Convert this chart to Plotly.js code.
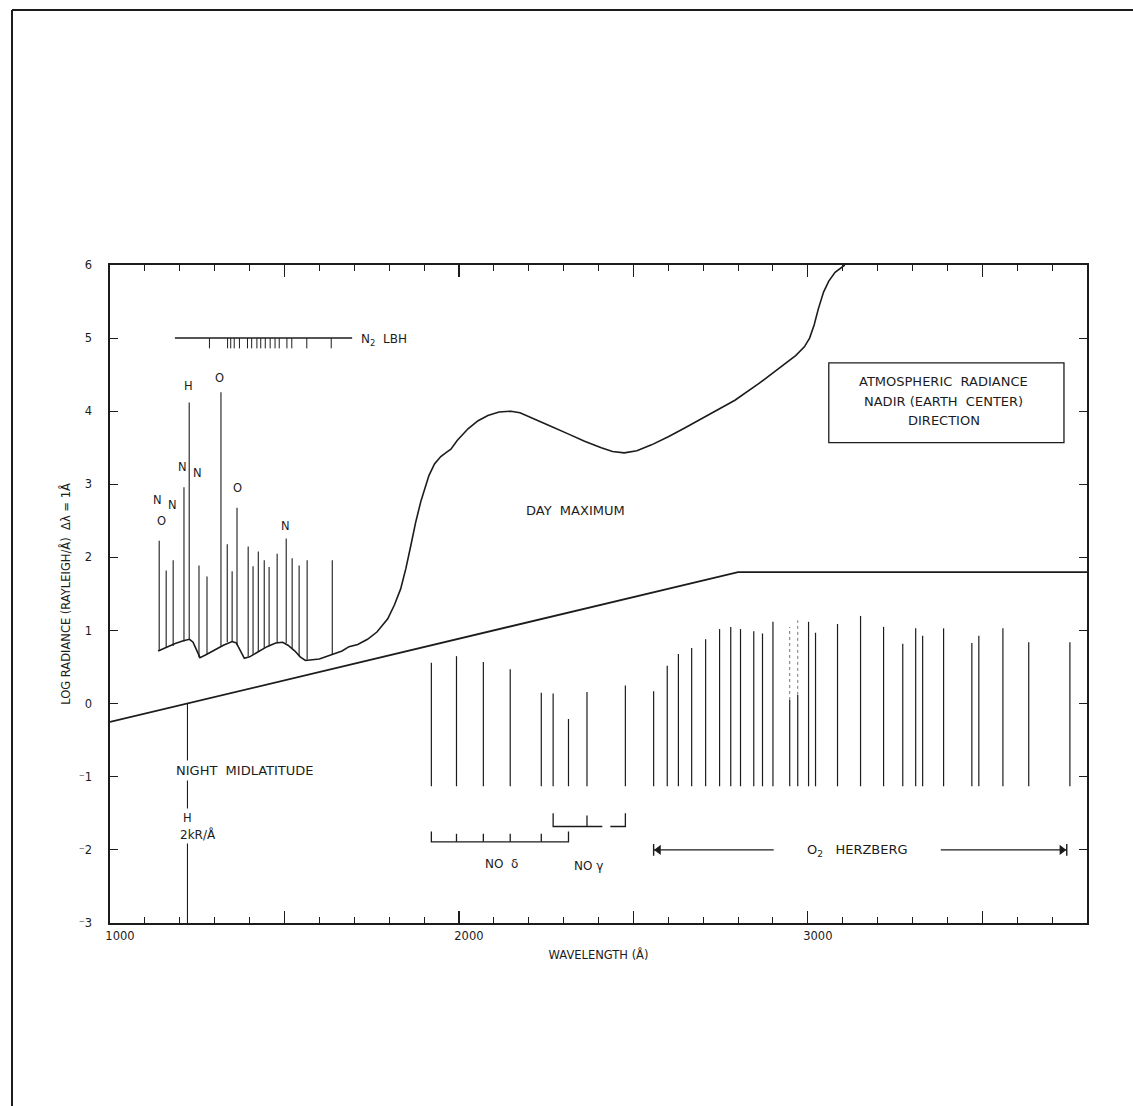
<!DOCTYPE html>
<html>
<head>
<meta charset="utf-8">
<script src="https://cdn.plot.ly/plotly-3.0.1.min.js"></script>
<style>
  html, body { margin: 0; padding: 0; background: #ffffff; }
  #chart { width: 1133px; height: 1106px; }
</style>
</head>
<body>
<div id="chart"></div>
<script>
// ---------- DATA ----------
// Day maximum continuum curve
const dayLam = [1138,1160,1185,1210,1228,1238,1250,1258,1275,1300,1325,1350,1362,1372,1385,1400,1425,1450,1475,1495,1510,1530,1545,1560,1600,1640,1665,1685,1710,1738,1765,1796,1815,1833,1848,1862,1876,1891,1914,1930,1948,1965,1977,1995,2026,2055,2083,2115,2149,2175,2200,2216,2260,2313,2360,2408,2440,2474,2510,2552,2600,2647,2720,2791,2860,2934,2965,2990,3005,3018,3030,3045,3060,3078,3106];
const dayVal = [0.72,0.77,0.82,0.86,0.88,0.84,0.70,0.63,0.67,0.74,0.80,0.85,0.83,0.74,0.62,0.64,0.71,0.78,0.83,0.84,0.80,0.72,0.64,0.59,0.61,0.68,0.72,0.78,0.81,0.88,0.98,1.16,1.35,1.57,1.85,2.16,2.48,2.77,3.12,3.28,3.38,3.44,3.48,3.60,3.76,3.87,3.94,3.99,4.00,3.98,3.93,3.89,3.80,3.69,3.59,3.50,3.45,3.43,3.46,3.54,3.65,3.77,3.96,4.15,4.38,4.64,4.76,4.88,5.00,5.18,5.40,5.63,5.78,5.90,6.00];

// Night midlatitude curve
const nightLam = [1000, 2800, 3800];
const nightVal = [-0.25, 1.80, 1.80];

// Far-UV emission lines standing on the day curve
const uvLam  = [1141,1161,1181,1212,1227,1255,1278,1318,1336,1350,1364,1396,1410,1425,1442,1456,1479,1505,1522,1542,1565,1637];
const uvBase = [0.73,0.76,0.79,0.85,0.88,0.63,0.68,0.78,0.84,0.85,0.80,0.65,0.67,0.71,0.76,0.79,0.83,0.83,0.76,0.65,0.60,0.68];
const uvTop  = [2.23,1.82,1.96,2.96,4.12,1.89,1.74,4.26,2.18,1.81,2.68,2.15,1.88,2.08,1.96,1.87,2.05,2.26,1.99,1.89,1.96,1.96];

// Night H Lyman-alpha line
const nightHLam = 1222;
const nightHRange = [-3, 0];

// NO and O2 band lines (hanging from a common base)
const bandLam = [1921,1993,2070,2147,2236,2270,2314,2367,2477,2558,2597,2629,2667,2707,2747,2779,2807,2845,2870,2900,3002,3022,3085,3151,3217,3272,3309,3329,3389,3470,3490,3559,3633,3751];
const bandTop = [0.56,0.65,0.57,0.47,0.15,0.14,-0.21,0.16,0.25,0.17,0.52,0.68,0.76,0.88,1.02,1.05,1.02,0.99,0.96,1.12,1.12,0.97,1.09,1.20,1.05,0.82,1.03,0.93,1.03,0.83,0.93,1.03,0.84,0.84];
const bandBase = -1.13;
// two faintly printed band lines
const fadedLam = [2948, 2971];
const fadedSolidTop = [0.05, 0.12];
const fadedTop = [1.05, 1.14];

// N2 LBH band marker
const lbhLine = [1186, 1694];
const lbhLevel = 5.0;
const lbhLam = [1285,1337,1346,1356,1371,1394,1406,1421,1432,1445,1459,1473,1485,1507,1521,1564,1634];
const lbhTickEnd = 4.86;

// NO delta / NO gamma brackets
const noDeltaLam = [1921,1993,2070,2147,2236,2314];
const noDeltaLevel = -1.89, noDeltaEndTop = -1.75, noDeltaMidTop = -1.78;
const noGammaLam = [2270,2367,2477];
const noGammaLevel = -1.68, noGammaEndTop = -1.50, noGammaMidTop = -1.53;
const noGammaGap = [2411, 2434];

// O2 Herzberg arrow
const herzLeft = [2558, 2902];
const herzRight = [3381, 3742];
const herzLevel = -2.0;
const herzHeadLam = [2572, 3728];   // arrowhead centres, just inside the end bars

// Axis ticks
const xTickVals = [1000,1500,2000,2500,3000,3500];
const xTickText = ['1000',' ','2000',' ','3000',' '];
const yTickVals = [-3,-2,-1,0,1,2,3,4,5,6];
const yTickText = ['\u207B3','\u207B2','\u207B1','0','1','2','3','4','5','6'];

// ---------- BUILD ----------
const INK = '#1c1c1c';
function segs(xs0, ys0, xs1, ys1) {
  const x = [], y = [];
  for (let i = 0; i < xs0.length; i++) {
    x.push(xs0[i], xs1[i], null);
    y.push(ys0[i], ys1[i], null);
  }
  return {x, y};
}
const traces = [];

// night curve
traces.push({x: nightLam, y: nightVal, mode: 'lines', line: {color: INK, width: 1.8}, hoverinfo: 'skip'});
// day curve
traces.push({x: dayLam, y: dayVal, mode: 'lines', line: {color: INK, width: 1.6}, hoverinfo: 'skip'});

// uv lines
let s = segs(uvLam, uvBase, uvLam, uvTop);
traces.push({x: s.x, y: s.y, mode: 'lines', line: {color: INK, width: 1.1}, hoverinfo: 'skip'});

// night H line
traces.push({x: [nightHLam, nightHLam], y: nightHRange, mode: 'lines', line: {color: INK, width: 1.1}, hoverinfo: 'skip'});

// band lines
s = segs(bandLam, bandLam.map(() => bandBase), bandLam, bandTop);
traces.push({x: s.x, y: s.y, mode: 'lines', line: {color: INK, width: 1.2}, hoverinfo: 'skip'});
s = segs(fadedLam, fadedLam.map(() => bandBase), fadedLam, fadedSolidTop);
traces.push({x: s.x, y: s.y, mode: 'lines', line: {color: INK, width: 1.2}, hoverinfo: 'skip'});
s = segs(fadedLam, fadedSolidTop, fadedLam, fadedTop);
traces.push({x: s.x, y: s.y, mode: 'lines', line: {color: '#777', width: 1, dash: 'dot'}, hoverinfo: 'skip'});

// LBH marker
traces.push({x: lbhLine, y: [lbhLevel, lbhLevel], mode: 'lines', line: {color: INK, width: 1.5}, hoverinfo: 'skip'});
s = segs(lbhLam, lbhLam.map(() => lbhLevel), lbhLam, lbhLam.map(() => lbhTickEnd));
traces.push({x: s.x, y: s.y, mode: 'lines', line: {color: INK, width: 1}, hoverinfo: 'skip'});

// NO delta bracket
{
  const n = noDeltaLam.length;
  const x = [noDeltaLam[0], noDeltaLam[0], noDeltaLam[n-1], noDeltaLam[n-1], null];
  const y = [noDeltaEndTop, noDeltaLevel, noDeltaLevel, noDeltaEndTop, null];
  for (let i = 1; i < n - 1; i++) { x.push(noDeltaLam[i], noDeltaLam[i], null); y.push(noDeltaLevel, noDeltaMidTop, null); }
  traces.push({x, y, mode: 'lines', line: {color: INK, width: 1.3}, hoverinfo: 'skip'});
}
// NO gamma bracket
{
  const a = noGammaLam[0], m = noGammaLam[1], b = noGammaLam[2];
  const x = [a, a, noGammaGap[0], null, noGammaGap[1], b, b, null, m, m];
  const y = [noGammaEndTop, noGammaLevel, noGammaLevel, null, noGammaLevel, noGammaLevel, noGammaEndTop, null, noGammaLevel, noGammaMidTop];
  traces.push({x, y, mode: 'lines', line: {color: INK, width: 1.3}, hoverinfo: 'skip'});
}
// Herzberg lines + end bars
traces.push({
  x: [herzLeft[0], herzLeft[1], null, herzRight[0], herzRight[1], null, herzLeft[0], herzLeft[0], null, herzRight[1], herzRight[1]],
  y: [herzLevel, herzLevel, null, herzLevel, herzLevel, null, herzLevel + 0.08, herzLevel - 0.08, null, herzLevel + 0.08, herzLevel - 0.08],
  mode: 'lines', line: {color: INK, width: 1.4}, hoverinfo: 'skip'
});
// Herzberg arrowheads
traces.push({
  x: herzHeadLam, y: [herzLevel, herzLevel], mode: 'markers',
  marker: {symbol: ['triangle-left', 'triangle-right'], size: 9, color: INK},
  hoverinfo: 'skip'
});

const F = {family: 'DejaVu Sans, Liberation Sans, sans-serif', size: 11.5, color: INK};
const FB = Object.assign({}, F, {size: 13});
function lab(x, y, text, extra) {
  return Object.assign({x, y, xref: 'x', yref: 'y', text, showarrow: false, font: F}, extra || {});
}
const annotations = [
  lab(1135, 2.79, 'N'), lab(1178, 2.72, 'N'), lab(1149, 2.50, 'O'),
  lab(1224, 4.35, 'H'), lab(1313, 4.46, 'O'),
  lab(1209, 3.24, 'N'), lab(1252, 3.16, 'N'),
  lab(1364, 2.95, 'O'), lab(1502, 2.43, 'N'),
  lab(1714, 4.97, 'N<sub>2</sub>  LBH', {xanchor: 'left', font: Object.assign({}, F, {size: 12})}),
  lab(2334, 2.64, 'DAY  MAXIMUM', {font: FB}),
  lab(1387, -0.92, 'NIGHT  MIDLATITUDE', {font: FB, bgcolor: '#ffffff', borderpad: 2}),
  lab(1221, -1.56, 'H', {bgcolor: '#ffffff', borderpad: 2}),
  lab(1252, -1.79, '2kR/Å', {font: Object.assign({}, F, {size: 12}), bgcolor: '#ffffff', borderpad: 1}),
  lab(2122, -2.19, 'NO  δ', {font: Object.assign({}, F, {size: 12})}),
  lab(2371, -2.22, 'NO γ', {font: Object.assign({}, F, {size: 12})}),
  lab(3143, -2.01, 'O<sub>2</sub>   HERZBERG', {font: FB}),
  lab(3390, 4.40, 'ATMOSPHERIC  RADIANCE', {font: FB}),
  lab(3390, 4.13, 'NADIR (EARTH  CENTER)', {font: FB}),
  lab(3390, 3.87, 'DIRECTION', {font: FB})
];

const shapes = [
  // legend box
  {type: 'rect', xref: 'x', yref: 'y', x0: 3060, x1: 3734, y0: 3.57, y1: 4.66, line: {color: INK, width: 1.3}},
  // page frame (left and top edges of the scanned sheet)
  {type: 'line', xref: 'paper', yref: 'paper', x0: -0.1003, x1: -0.1003, y0: 1.3875, y1: -0.30, line: {color: INK, width: 2}},
  {type: 'line', xref: 'paper', yref: 'paper', x0: -0.1003, x1: 1.06, y0: 1.3875, y1: 1.3875, line: {color: INK, width: 2}}
];

const axisCommon = {
  showgrid: false, zeroline: false, showline: true, linecolor: INK, linewidth: 1.6,
  mirror: 'ticks', ticks: 'inside', tickcolor: INK, tickwidth: 1.2,
  tickfont: {family: 'DejaVu Sans, sans-serif', size: 11.5, color: INK}
};

const layout = {
  width: 1133, height: 1106,
  margin: {l: 110, r: 46, t: 265, b: 183, pad: 0},
  paper_bgcolor: '#ffffff', plot_bgcolor: '#ffffff',
  showlegend: false,
  xaxis: Object.assign({}, axisCommon, {
    range: [1000, 3800], tickmode: 'array', tickvals: xTickVals, ticktext: xTickText, ticklen: 12,
    ticklabelshift: 10, ticklabelstandoff: 2,
    minor: {tick0: 1000, dtick: 100, ticks: 'inside', ticklen: 6, tickcolor: INK, tickwidth: 1},
    title: {text: 'WAVELENGTH (Å)', font: {family: 'DejaVu Sans, sans-serif', size: 11.5, color: INK}, standoff: 8}
  }),
  yaxis: Object.assign({}, axisCommon, {
    range: [-3, 6], tickmode: 'array', tickvals: yTickVals, ticktext: yTickText, ticklen: 8,
    ticklabelstandoff: 14,
    title: {text: 'LOG RADIANCE (RAYLEIGH/Å)  Δλ = 1Å', font: {family: 'DejaVu Sans, sans-serif', size: 11.5, color: INK}, standoff: 5}
  }),
  annotations, shapes
};

Plotly.newPlot('chart', traces, layout, {staticPlot: true, displayModeBar: false});
</script>
</body>
</html>
